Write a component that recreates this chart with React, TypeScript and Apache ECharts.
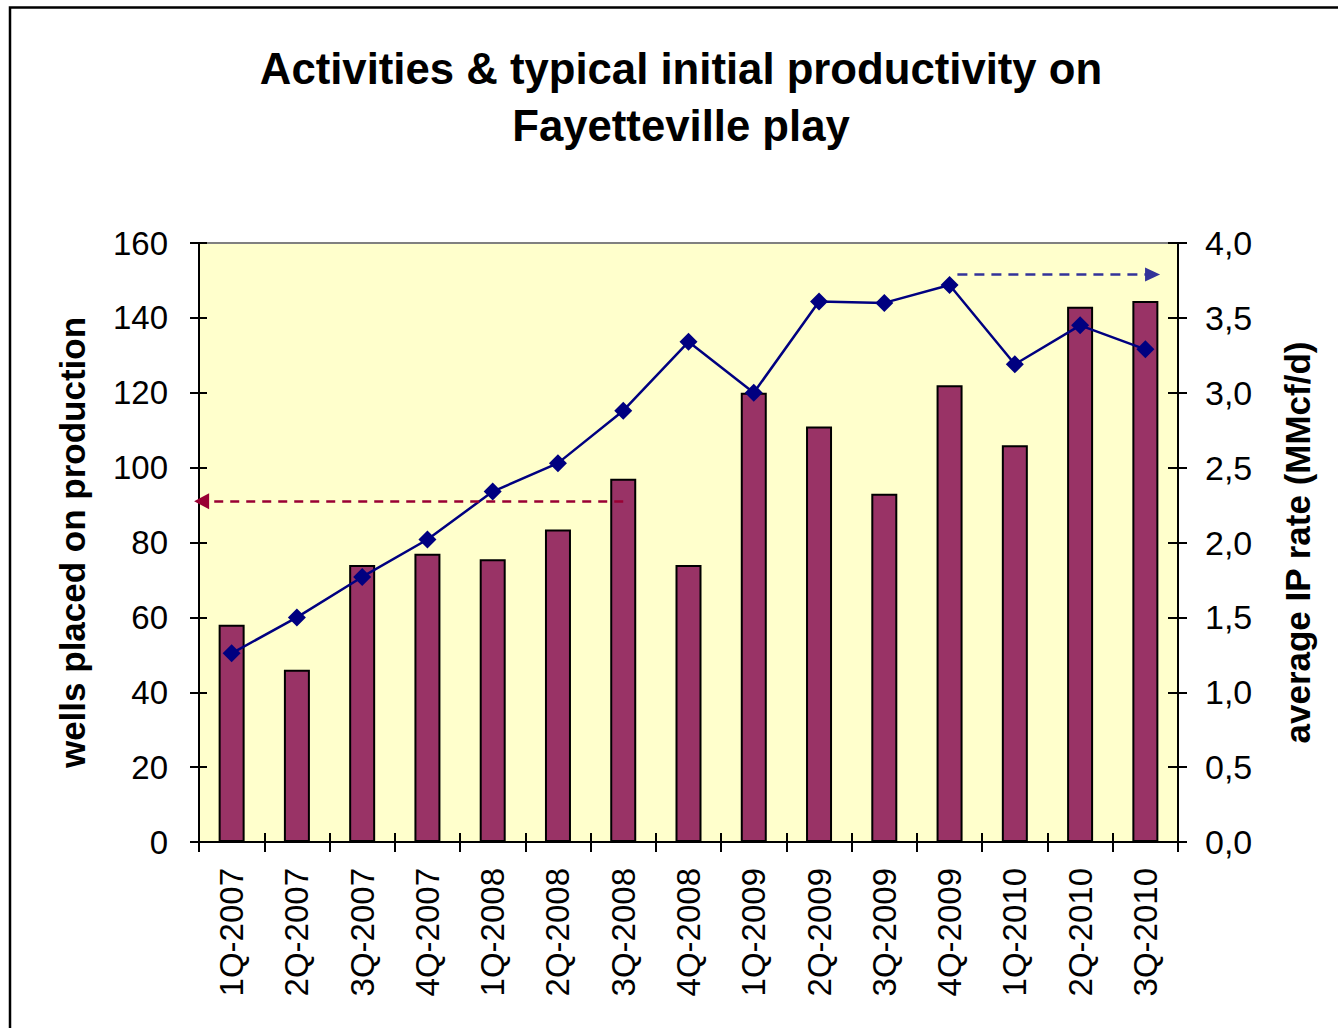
import React, { useEffect, useRef } from "react";
import * as echarts from "echarts";

const categories = [
  "1Q-2007", "2Q-2007", "3Q-2007", "4Q-2007",
  "1Q-2008", "2Q-2008", "3Q-2008", "4Q-2008",
  "1Q-2009", "2Q-2009", "3Q-2009", "4Q-2009",
  "1Q-2010", "2Q-2010", "3Q-2010",
];
const wellsPlaced = [58, 46, 74, 77, 75.5, 83.5, 97, 74, 120, 111, 93, 122, 106, 143, 144.5];
const ipRate = [1.26, 1.5, 1.77, 2.02, 2.34, 2.53, 2.88, 3.34, 3.0, 3.61, 3.6, 3.72, 3.19, 3.45, 3.29];

const leftAxisRange = { min: 0, max: 160, interval: 20 };
const rightAxisRange = { min: 0, max: 4, interval: 0.5 };

// annotation arrows (category-index positions, value)
const redArrow = { from: 6, to: -0.46, value: 91 };
const blueArrow = { from: 11.12, to: 14.11, value: 3.79 };

const FONT = "'Liberation Sans', Arial, sans-serif";

export default function App() {
  const ref = useRef<HTMLDivElement>(null);
  useEffect(() => {
    if (!ref.current) return;
    const chart = echarts.init(ref.current, null, { renderer: "svg" });
    const fmtRight = (v: number) => v.toFixed(1).replace(".", ",");
    chart.setOption({
      animation: false,
      backgroundColor: "#ffffff",
      graphic: [
        {
          type: "rect",
          shape: { x: 10, y: 7.5, width: 1400, height: 1100 },
          style: { fill: "none", stroke: "#000", lineWidth: 2.5 },
          silent: true,
        },
        {
          type: "text",
          x: 681,
          y: 40,
          style: {
            text: "Activities & typical initial productivity on\nFayetteville play",
            font: `bold 43.7px ${FONT}`,
            fill: "#000",
            textAlign: "center",
            textVerticalAlign: "top",
            lineHeight: 57,
          },
        },
      ],
      grid: {
        left: 199,
        right: 160,
        top: 243,
        bottom: 186,
        show: true,
        backgroundColor: "#FFFFCC",
        borderColor: "#808080",
        borderWidth: 2,
      },
      xAxis: [
        {
          type: "category",
          data: categories,
          position: "bottom",
          axisLine: { onZero: false, lineStyle: { color: "#000", width: 2 } },
          axisTick: { show: true, length: 10, lineStyle: { color: "#000", width: 2 } },
          axisLabel: {
            rotate: 90,
            margin: 26,
            color: "#000",
            fontSize: 33,
            fontFamily: FONT,
          },
          splitLine: { show: false },
        },
        {
          type: "value",
          min: -0.5,
          max: 14.5,
          show: false,
          position: "top",
          axisLine: { onZero: false },
          splitLine: { show: false },
        },
        {
          type: "category",
          data: categories,
          position: "bottom",
          axisLine: { show: false, onZero: false },
          axisTick: { show: true, inside: true, length: 9, lineStyle: { color: "#000", width: 2 } },
          axisLabel: { show: false },
          splitLine: { show: false },
        },
      ],
      yAxis: [
        {
          type: "value",
          position: "left",
          ...leftAxisRange,
          name: "wells placed on production",
          nameLocation: "middle",
          nameRotate: 90,
          nameGap: 109,
          nameTextStyle: { fontSize: 35, fontWeight: "bold", color: "#000", fontFamily: FONT },
          axisLine: { show: true, onZero: false, lineStyle: { color: "#000", width: 2 } },
          axisTick: { show: true, length: 9, lineStyle: { color: "#000", width: 2 } },
          axisLabel: { margin: 31, color: "#000", fontSize: 33, fontFamily: FONT },
          splitLine: { show: false },
        },
        {
          type: "value",
          position: "right",
          ...rightAxisRange,
          name: "average IP rate (MMcf/d)",
          nameLocation: "middle",
          nameRotate: 90,
          nameGap: 102,
          nameTextStyle: { fontSize: 35, fontWeight: "bold", color: "#000", fontFamily: FONT },
          axisLine: { show: true, onZero: false, lineStyle: { color: "#000", width: 2 } },
          axisTick: { show: true, length: 9, lineStyle: { color: "#000", width: 2 } },
          axisLabel: { margin: 27, color: "#000", fontSize: 34, fontFamily: FONT, formatter: fmtRight },
          splitLine: { show: false },
        },
        {
          type: "value",
          position: "left",
          ...leftAxisRange,
          axisLine: { show: false, onZero: false },
          axisTick: { show: true, inside: true, length: 8, lineStyle: { color: "#000", width: 2 } },
          axisLabel: { show: false },
          splitLine: { show: false },
        },
        {
          type: "value",
          position: "right",
          ...rightAxisRange,
          axisLine: { show: false, onZero: false },
          axisTick: { show: true, inside: true, length: 10, lineStyle: { color: "#000", width: 2 } },
          axisLabel: { show: false },
          splitLine: { show: false },
        },
      ],
      series: [
        {
          name: "wells placed on production",
          type: "bar",
          xAxisIndex: 0,
          yAxisIndex: 0,
          data: wellsPlaced,
          barWidth: 26,
          itemStyle: { color: "#993366", borderColor: "#000", borderWidth: 2 },
          z: 2,
        },
        {
          name: "average IP rate",
          type: "line",
          xAxisIndex: 0,
          yAxisIndex: 1,
          data: ipRate,
          symbol: "diamond",
          symbolSize: 18,
          lineStyle: { color: "#000080", width: 2.5 },
          itemStyle: { color: "#000080" },
          z: 4,
        },
        {
          name: "arrows-left",
          type: "line",
          xAxisIndex: 1,
          yAxisIndex: 0,
          data: [],
          z: 3,
          markLine: {
            silent: true,
            symbol: ["none", "triangle"],
            symbolSize: [16, 15],
            label: { show: false },
            lineStyle: { color: "#990033", type: [9, 7], width: 2.5 },
            data: [
              [
                { coord: [redArrow.from, redArrow.value] },
                { coord: [redArrow.to, redArrow.value] },
              ],
            ],
          },
        },
        {
          name: "arrows-right",
          type: "line",
          xAxisIndex: 1,
          yAxisIndex: 1,
          data: [],
          z: 3,
          markLine: {
            silent: true,
            symbol: ["none", "triangle"],
            symbolSize: [14, 15],
            label: { show: false },
            lineStyle: { color: "#333399", type: [10, 7], width: 2.5 },
            data: [
              [
                { coord: [blueArrow.from, blueArrow.value] },
                { coord: [blueArrow.to, blueArrow.value] },
              ],
            ],
          },
        },
      ],
    });
    return () => chart.dispose();
  }, []);
  return (
    <div
      ref={ref}
      style={{ position: "fixed", left: 0, top: 0, width: 1338, height: 1028 }}
    />
  );
}
